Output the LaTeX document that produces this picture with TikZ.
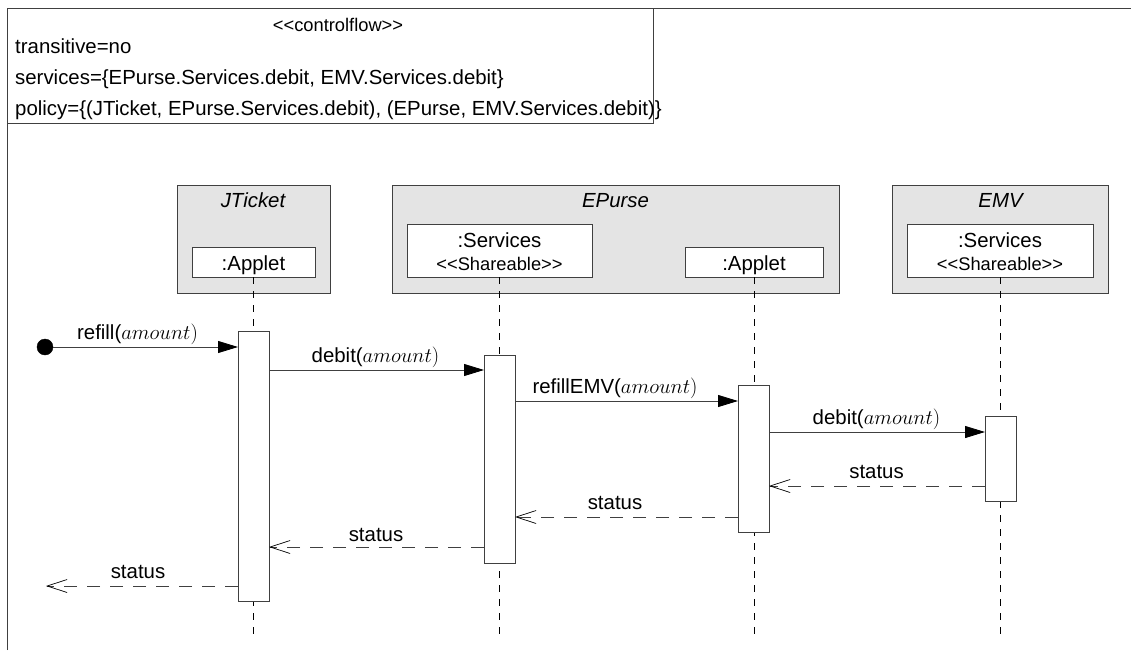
\documentclass[tikz,border=0pt]{standalone}
\usepackage[no-math]{fontspec}
\setmainfont{Liberation Sans}
\usetikzlibrary{arrows.meta,calc}
\definecolor{linec}{gray}{0.25}
\definecolor{objfill}{gray}{0.895}
\tikzset{
  basefont/.style={font=\fontsize{20.4pt}{24pt}\selectfont},
  smallfont/.style={font=\fontsize{18.3pt}{22pt}\selectfont},
  box/.style={draw=linec,line width=0.9pt,inner sep=0pt,outer sep=0pt,anchor=north west},
  objbox/.style={box,fill=objfill},
  partbox/.style={box,fill=white},
  actbox/.style={draw=linec,line width=0.9pt,fill=white,inner sep=0pt,outer sep=0pt,minimum width=31pt},
  lifeline/.style={draw=black,line width=0.8pt,dash pattern=on 7pt off 7pt},
  call/.style={draw=linec,line width=0.9pt,-{Triangle[length=20pt,width=12pt,fill=black,color=black]}},
  ret/.style={draw=linec,line width=0.9pt,dash pattern=on 13.5pt off 9.5pt,-{Straight Barb[length=20pt,width=13pt,line width=0.7pt,color=black]}},
  lab/.style={basefont,anchor=base,inner sep=0pt,text=black},
  txt/.style={basefont,anchor=base west,inner sep=0pt},
}
\newcommand{\ltlt}{<\kern0pt<}
\newcommand{\gtgt}{>\kern0pt>}
\begin{document}
\begin{tikzpicture}[x=1pt,y=-1pt]
\useasboundingbox (0,0) rectangle (1131,650);
% outer frame
\coordinate (fa) at (7,650);
\coordinate (fb) at (7,8);
\coordinate (fc) at (1131,8);
\draw[linec,line width=0.9pt] (fa) -- (fb) -- (fc);
% constraint box
\node[box,minimum width=646pt,minimum height=115pt] (cf) at (7,8) {};
\node[smallfont,anchor=base,inner sep=0pt] (cft) at (338,31.5) {\ltlt controlflow\gtgt};
\node[txt] (t1) at (15,54) {transitive=no};
\node[txt] (t2) at (15,84.5) {services=\{EPurse.Services.debit, EMV.Services.debit\}};
\node[txt] (t3) at (15,115.5) {policy=\{(JTicket, EPurse.Services.debit), (EPurse, EMV.Services.debit)\}};
% object boxes
\node[objbox,minimum width=153pt,minimum height=108pt] (jt) at (177,185) {};
\node[objbox,minimum width=447pt,minimum height=108pt] (ep) at (392,185) {};
\node[objbox,minimum width=216pt,minimum height=108pt] (em) at (892,185) {};
\node[lab,font=\fontsize{20.4pt}{24pt}\selectfont\itshape] (jtn) at (253,207.5) {JTicket};
\node[lab,font=\fontsize{20.4pt}{24pt}\selectfont\itshape] (epn) at (615.5,207.5) {EPurse};
\node[lab,font=\fontsize{20.4pt}{24pt}\selectfont\itshape] (emn) at (1000.5,207.5) {EMV};
% parts
\node[partbox,minimum width=123pt,minimum height=30pt] (ja) at (192,247) {};
\node[partbox,minimum width=185pt,minimum height=53pt] (es) at (407,224) {};
\node[partbox,minimum width=138pt,minimum height=30pt] (ea) at (685,247) {};
\node[partbox,minimum width=186pt,minimum height=53pt] (vs) at (907,224) {};
\node[lab] (jal) at (253.5,270) {:Applet};
\node[lab] (eal) at (754,270) {:Applet};
\node[lab] (esl) at (499.5,247) {:Services};
\node[lab] (vsl) at (1000,247) {:Services};
\node[lab,smallfont] (ess) at (499.5,270) {\ltlt Shareable\gtgt};
\node[lab,smallfont] (vss) at (1000,270) {\ltlt Shareable\gtgt};
% lifelines
\coordinate (je) at (253.5,640);
\coordinate (se) at (499.5,640);
\coordinate (ae) at (754,640);
\coordinate (ve) at (1000,640);
\draw[lifeline] (ja.south -| je) -- (je);
\draw[lifeline] (es.south -| se) -- (se);
\draw[lifeline] (ea.south -| ae) -- (ae);
\draw[lifeline] (vs.south -| ve) -- (ve);
% activations
\node[actbox,minimum height=270pt] (a1) at (253.5,466) {};
\node[actbox,minimum height=208pt] (a2) at (499.5,459) {};
\node[actbox,minimum height=147pt] (a3) at (753.5,458.5) {};
\node[actbox,minimum height=85pt] (a4) at (1000.5,458.5) {};
% start
\node[circle,fill=black,draw=black,inner sep=0pt,minimum size=16pt] (start) at (45,347) {};
\coordinate (y1) at (0,347);
\coordinate (y2) at (0,370);
\coordinate (y3) at (0,401);
\coordinate (y4) at (0,432);
\coordinate (y5) at (0,486);
\coordinate (y6) at (0,517);
\coordinate (y7) at (0,547);
\coordinate (y8) at (46,586);
% calls
\draw[call] (start.east) -- (a1.west |- y1);
\draw[call] (a1.east |- y2) -- (a2.west |- y2);
\draw[call] (a2.east |- y3) -- (a3.west |- y3);
\draw[call] (a3.east |- y4) -- (a4.west |- y4);
% returns
\draw[ret] (a4.west |- y5) -- (a3.east |- y5);
\draw[ret] (a3.west |- y6) -- (a2.east |- y6);
\draw[ret] (a2.west |- y7) -- (a1.east |- y7);
\draw[ret] (a1.west |- y8) -- (y8);
% labels
\node[lab] (l1) at (137.5,339) {refill($amount)$};
\node[lab] (l2) at (375.5,362) {debit($amount)$};
\node[lab] (l3) at (615,393) {refillEMV($amount)$};
\node[lab] (l4) at (876.5,424) {debit($amount)$};
\node[lab] (l5) at (876.5,478) {status};
\node[lab] (l6) at (615,509) {status};
\node[lab] (l7) at (376,541) {status};
\node[lab] (l8) at (138,578) {status};
\end{tikzpicture}
\end{document}
